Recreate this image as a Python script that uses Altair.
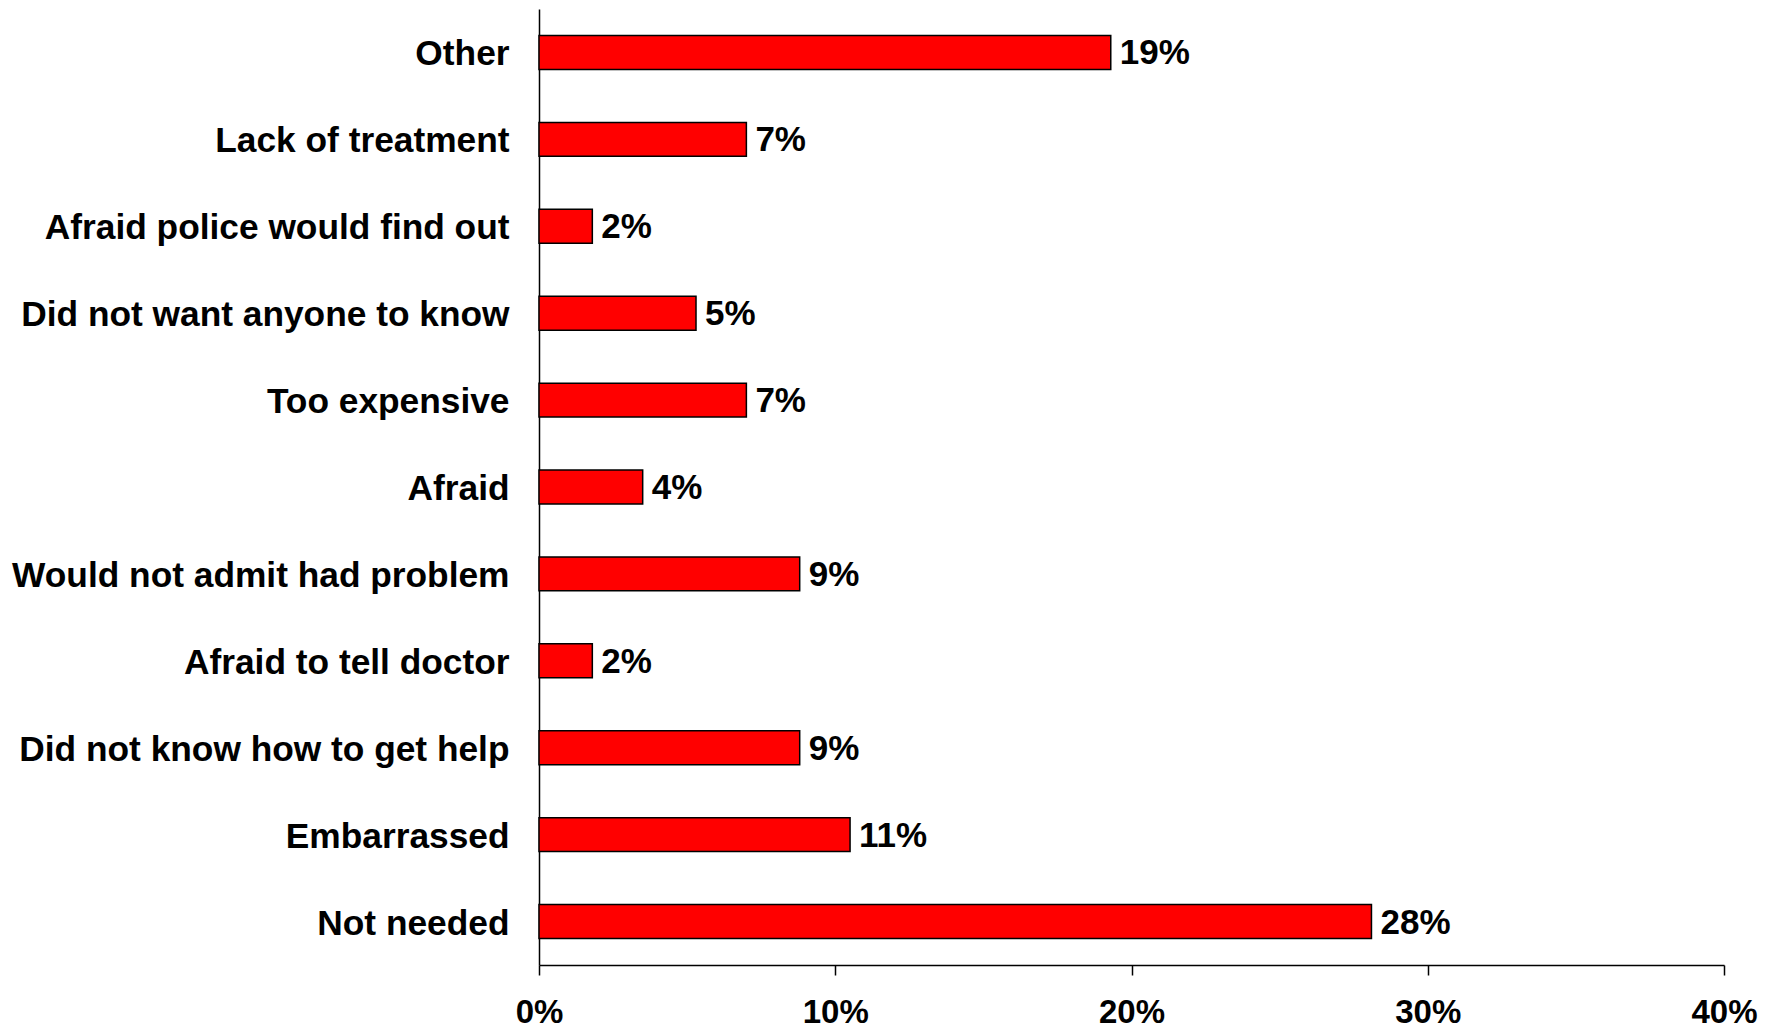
import altair as alt
import pandas as pd

categories = [
    "Other",
    "Lack of treatment",
    "Afraid police would find out",
    "Did not want anyone to know",
    "Too expensive",
    "Afraid",
    "Would not admit had problem",
    "Afraid to tell doctor",
    "Did not know how to get help",
    "Embarrassed",
    "Not needed",
]
values = [19.3, 7.0, 1.8, 5.3, 7.0, 3.5, 8.8, 1.8, 8.8, 10.5, 28.1]
value_labels = ["19%", "7%", "2%", "5%", "7%", "4%", "9%", "2%", "9%", "11%", "28%"]
x_ticks = [0, 10, 20, 30, 40]

df = pd.DataFrame({"category": categories, "value": values, "label": value_labels})

FONT = "Liberation Sans"

y_enc = alt.Y(
    "category:N",
    sort=categories,
    scale=alt.Scale(paddingInner=0.61, paddingOuter=0.305),
    axis=alt.Axis(
        title=None,
        ticks=False,
        labelFont=FONT,
        labelFontSize=35.3,
        labelFontWeight="bold",
        labelColor="black",
        labelPadding=30,
        labelOffset=2,
        labelLimit=0,
        domainColor="black",
        domainWidth=1.5,
        grid=False,
    ),
)

x_enc = alt.X(
    "value:Q",
    scale=alt.Scale(domain=[0, 40], nice=False),
    axis=alt.Axis(
        title=None,
        values=x_ticks,
        labelExpr="datum.value + '%'",
        labelFlush=False,
        labelFont=FONT,
        labelFontSize=33,
        labelFontWeight="bold",
        labelColor="black",
        labelPadding=21,
        tickSize=10,
        tickColor="black",
        tickWidth=1.5,
        domainColor="black",
        domainWidth=1.5,
        grid=False,
    ),
)

bars = alt.Chart(df).mark_bar(
    color="#FF0000", stroke="black", strokeWidth=1.5
).encode(x=x_enc, y=y_enc)

text = alt.Chart(df).mark_text(
    align="left", baseline="middle", dx=9, dy=1,
    font=FONT, fontSize=35, fontWeight="bold", color="black"
).encode(
    x=alt.X("value:Q"),
    y=alt.Y("category:N", sort=categories),
    text="label:N",
)

chart = (
    (bars + text)
    .properties(
        width=1185,
        height=956,
        background="white",
        autosize=alt.AutoSizeParams(type="none"),
        padding={"left": 531, "top": 1, "right": 44, "bottom": 66},
    )
    .configure_view(stroke=None, strokeWidth=0)
    .configure_axis(grid=False)
)

chart.save("out.html", embed_options={"renderer": "svg", "actions": False})
